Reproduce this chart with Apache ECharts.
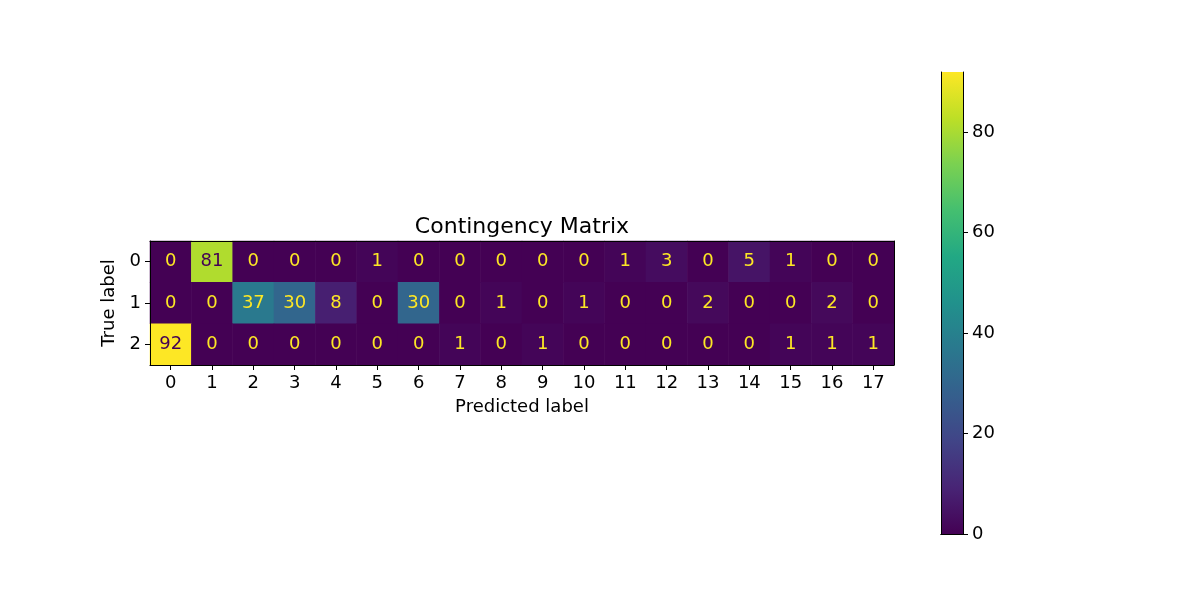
<!DOCTYPE html>
<html>
<head>
<meta charset="utf-8">
<script src="https://cdn.jsdelivr.net/npm/echarts@6/dist/echarts.min.js"></script>
<style>html,body{margin:0;padding:0;background:#fff;}#c{width:1200px;height:600px;}</style>
</head>
<body>
<div id="c"></div>
<script>
var predictedLabels = ['0','1','2','3','4','5','6','7','8','9','10','11','12','13','14','15','16','17'];
var trueLabels = ['0','1','2'];
var row0 = [0,81,0,0,0,1,0,0,0,0,0,1,3,0,5,1,0,0];
var row1 = [0,0,37,30,8,0,30,0,1,0,1,0,0,2,0,0,2,0];
var row2 = [92,0,0,0,0,0,0,1,0,1,0,0,0,0,0,1,1,1];
var colorbarTicks = [0,20,40,60,80];
var vmin = 0, vmax = 92;

var viridis = ['#440154','#482475','#414487','#355f8d','#2a788e','#21918c','#22a884','#44bf70','#7ad151','#bddf26','#fde725'];
var FONT = 'DejaVu Sans';
var FS = 18;
var rows = [row0,row1,row2];
var thresh = (vmin + vmax) / 2;
var data = [];
rows.forEach(function(r, yi){
  r.forEach(function(v, xi){
    data.push({value:[xi, yi, v], label:{color: v < thresh ? viridis[10] : viridis[0]}});
  });
});
var stops = viridis.map(function(c,i){ return {offset: 1 - i/(viridis.length-1), color: c}; });

var chart = echarts.init(document.getElementById('c'));
var lineOnly = {show:true, lineStyle:{color:'#000', width:1}};
chart.setOption({
  animation:false,
  backgroundColor:'#fff',
  title:{text:'Contingency Matrix', left:517, top:211, textAlign:'center',
    textStyle:{fontFamily:FONT, fontSize:22, fontWeight:'normal', color:'#000'}},
  grid:[
    {left:150, width:744, top:241, height:124},
    {left:941, width:22, top:72, height:462}
  ],
  xAxis:[
    {type:'category', gridIndex:0, data:predictedLabels, position:'bottom', z:10,
      name:'Predicted label', nameLocation:'middle', nameGap:33,
      nameTextStyle:{fontFamily:FONT, fontSize:FS, color:'#000'},
      axisLine:lineOnly, axisTick:{show:true, alignWithLabel:true, length:5, lineStyle:{color:'#000'}},
      axisLabel:{fontFamily:FONT, fontSize:FS, color:'#000', margin:9}, splitLine:{show:false}},
    {type:'category', gridIndex:0, data:predictedLabels, position:'top', z:10,
      axisLine:lineOnly, axisTick:{show:false}, axisLabel:{show:false}},
    {type:'category', gridIndex:1, data:['c'], position:'bottom', z:10,
      axisLine:lineOnly, axisTick:{show:false}, axisLabel:{show:false}},
    {type:'category', gridIndex:1, data:['c'], position:'top', z:10,
      axisLine:lineOnly, axisTick:{show:false}, axisLabel:{show:false}}
  ],
  yAxis:[
    {type:'category', gridIndex:0, data:trueLabels, inverse:true, position:'left', z:10,
      name:'True label', nameLocation:'middle', nameGap:22, nameRotate:90,
      nameTextStyle:{fontFamily:FONT, fontSize:FS, color:'#000'},
      axisLine:lineOnly, axisTick:{show:true, alignWithLabel:true, length:5, lineStyle:{color:'#000'}},
      axisLabel:{fontFamily:FONT, fontSize:FS, color:'#000', margin:9}, splitLine:{show:false}},
    {type:'category', gridIndex:0, data:trueLabels, inverse:true, position:'right', z:10,
      axisLine:lineOnly, axisTick:{show:false}, axisLabel:{show:false}},
    {type:'value', gridIndex:1, min:vmin, max:vmax, position:'right', z:10,
      axisLine:lineOnly,
      axisLabel:{fontFamily:FONT, fontSize:FS, color:'#000', margin:9, customValues: colorbarTicks},
      axisTick:{show:true, length:5, lineStyle:{color:'#000'}, customValues: colorbarTicks},
      splitLine:{show:false}},
    {type:'value', gridIndex:1, min:vmin, max:vmax, position:'left', z:10,
      axisLine:lineOnly, axisTick:{show:false}, axisLabel:{show:false}, splitLine:{show:false}}
  ],
  visualMap:{show:false, min:vmin, max:vmax, seriesIndex:0, dimension:2, inRange:{color:viridis}},
  series:[
    {type:'heatmap', xAxisIndex:0, yAxisIndex:0, data:data,
      label:{show:true, fontFamily:FONT, fontSize:FS}},
    {type:'bar', xAxisIndex:2, yAxisIndex:2, data:[vmax], barWidth:'100%',
      itemStyle:{color:{type:'linear', x:0, y:0, x2:0, y2:1, colorStops:stops}}}
  ]
});
</script>
</body>
</html>
